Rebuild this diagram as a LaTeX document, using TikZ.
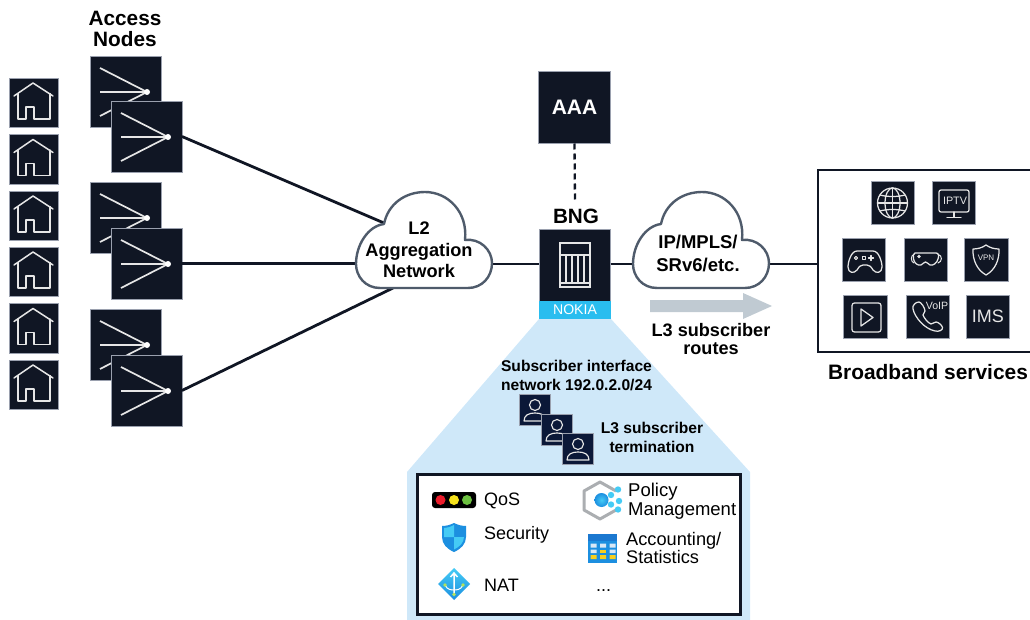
\documentclass[tikz,border=0pt]{standalone}
\usepackage{fontspec}
\setmainfont{Liberation Sans}
\definecolor{ink}{HTML}{101624}
\definecolor{navy}{HTML}{0B1838}
\definecolor{edge}{HTML}{9AA0AE}
\definecolor{glyph}{HTML}{E6E6E6}
\definecolor{cloudline}{HTML}{4F5B6B}
\definecolor{paleblue}{HTML}{CFE8F9}
\definecolor{nokia}{HTML}{29BDEF}
\definecolor{arrowgrey}{HTML}{C0CAD2}
\definecolor{lightred}{HTML}{EC1C2B}
\definecolor{lightyellow}{HTML}{F6E21C}
\definecolor{lightgreen}{HTML}{6CC040}
\definecolor{brightcyan}{HTML}{45CBF5}
\definecolor{midblue}{HTML}{1C8FE0}
\definecolor{deepblue}{HTML}{1B78D0}
\definecolor{cellpale}{HTML}{D8E8F6}
\definecolor{cellgold}{HTML}{F8CF1E}
\definecolor{hexgrey}{HTML}{ABAEB1}
\definecolor{dotgreen}{HTML}{B6E35A}
\newcommand{\fsz}[1]{\fontsize{#1}{#1}\selectfont}
\tikzset{
  sq/.style={draw=edge,line width=0.6pt,fill=ink,inner sep=0pt,outer sep=0pt,anchor=north west,text=white},
  subbox/.style={sq,fill=navy,minimum size=31.5pt},
  homebox/.style={sq,minimum size=49.5pt},
  anbox/.style={sq,minimum size=71pt},
  svcbox/.style={sq,minimum size=43.5pt},
  gl/.style={draw=glyph,line width=1.25pt,line join=round,line cap=round},
  wire/.style={draw=ink,line width=2.8pt},
  cloudshape/.style={draw=cloudline,line width=2.4pt,fill=white,line join=round},
  bold/.style={inner sep=0pt,align=center,font=\bfseries\fsz{#1}},
  reg/.style={inner sep=0pt,anchor=west,align=left,font=\fsz{#1}},
  homeglyph/.pic={
    \draw[gl,line width=1.5pt] (5,18) -- (24,5) -- (44,18);
    \draw[gl,line width=1.5pt] (9,15.6) -- (9,41) -- (17,41) -- (17,29) -- (25,29) -- (25,41) -- (41,41) -- (41,15.6);
  },
  fanglyph/.pic={
    \draw[draw=glyph,line width=1.7pt] (10,12) -- (57,36) (10,36) -- (57,36) (10,60) -- (57,36);
    \fill[white] (57,36) circle (3);
  },
  personglyph/.pic={
    \draw[gl,line width=1.15pt] (16,11) circle (5.5);
    \draw[gl,line width=1.15pt] (5,27) .. controls (5,21) and (10,19) .. (16,19) .. controls (22,19) and (27,21) .. (27,27) -- cycle;
  },
  cloudglyph/.pic={
    \path[cloudshape] (384,224)
      .. controls (388,204) and (405,192) .. (425,192)
      .. controls (448,192) and (468,212) .. (465,240)
      .. controls (480,238) and (492,250) .. (492,263)
      .. controls (492,277) and (482,288) .. (468,288)
      -- (380,288)
      .. controls (365,288) and (356,276) .. (356,264)
      .. controls (356,245) and (368,226) .. (384,224) -- cycle;
  }
}
\begin{document}
\begin{tikzpicture}[x=1pt,y=-1pt]
\useasboundingbox (0,0) rectangle (1030,620);
% pale blue fan-out
\fill[paleblue] (539,319) -- (611,319) -- (750,472) -- (750,620) -- (407,620) -- (407,472) -- cycle;

% homes
\foreach \n/\yy in {1/78,2/134.5,3/191,4/247,5/303.5,6/360}{
  \node[homebox] (home\n) at (9,\yy) {};
  \pic at (9,\yy) {homeglyph};
}
% access nodes
\node[anbox] (an1b) at (90,56) {};  \pic at (90,56) {fanglyph};
\node[anbox] (an1) at (111,101) {}; \pic at (111,101) {fanglyph};
\node[anbox] (an2b) at (90,182) {}; \pic at (90,182) {fanglyph};
\node[anbox] (an2) at (111,228) {}; \pic at (111,228) {fanglyph};
\node[anbox] (an3b) at (90,309) {}; \pic at (90,309) {fanglyph};
\node[anbox] (an3) at (111,355) {}; \pic at (111,355) {fanglyph};
\node[bold=20.8] (antext) at (125,29) {Access\\[0.5pt]Nodes};

% AAA and BNG boxes
\node[sq,minimum size=72pt,font=\bfseries\fsz{21}] (aaa) at (538.5,71.5) {AAA};
\node[sq,minimum width=71.5pt,minimum height=72pt] (bng) at (539,229) {};
\node[inner sep=0pt,outer sep=0pt,anchor=north west,fill=nokia,minimum width=72pt,minimum height=18pt,text=white,font=\fsz{14.1}] (nokiabar) at (539,301) {NOKIA};
\node[bold=20.7] (bnglabel) at (576,216) {BNG};
\coordinate (dashend) at (575,203);
\draw[draw=ink,line width=2.3pt,dash pattern=on 6pt off 4pt] (aaa.south) -- (dashend);
\draw[draw=glyph,line width=1.25pt] (560,243) rectangle (590,287) (560,255) -- (590,255) (560,283) -- (590,283)
  (566,255) -- (566,283) (572,255) -- (572,283) (578,255) -- (578,283) (584,255) -- (584,283);

% connectors
\coordinate (l2a) at (384,223);
\coordinate (l2b) at (357,264);
\coordinate (l2c) at (393,288);
\coordinate (l2d) at (491,264);
\coordinate (ipa) at (634,264);
\coordinate (ipb) at (768,264);
\coordinate (svcport) at (818,264);
\draw[wire] (an1.east) -- (l2a);
\draw[wire] (an2.east) -- (an2.east -| l2b);
\draw[wire] (an3.east) -- (l2c);
\draw[wire] (l2d) -- (l2d -| bng.west);
\draw[wire] (l2d -| bng.east) -- (ipa);
\draw[wire] (ipb) -- (svcport);

% clouds
\pic at (0,0) {cloudglyph};
\pic at (277,0) {cloudglyph};
\node[bold=18.2] (l2text) at (419,250) {L2\\[3.5pt]Aggregation\\[3.5pt]Network};
\node[bold=18.5] (iptext) at (698,253.5) {IP/MPLS/\\[4.5pt]SRv6/etc.};

% routes arrow
\fill[arrowgrey] (650,300) -- (743,300) -- (743,293) -- (772,306) -- (743,319) -- (743,312) -- (650,312) -- cycle;
\node[bold=18.1] (routestext) at (711,339) {L3 subscriber\\[0.5pt]routes};

% services frame
\draw[draw=ink,line width=2.8pt] (1031,170) -- (818,170) -- (818,352) -- (1031,352);
\node[bold=20.9] (bbtext) at (928,372) {Broadband services};

% service icons
\node[svcbox] (globe) at (871,181) {};
\draw[gl] (892.5,203) circle (15);
\draw[gl] (892.5,203) ellipse (7.5 and 15);
\draw[gl] (892.5,188) -- (892.5,218) (877.5,203) -- (907.5,203);
\draw[gl] (880,195) .. controls (887,197) and (898,197) .. (905,195);
\draw[gl] (880,211) .. controls (887,209) and (898,209) .. (905,211);

\node[svcbox] (iptv) at (932,181) {};
\draw[gl,rounded corners=2pt] (939,190) rectangle (969,212);
\draw[gl] (954,212) -- (954,217) (947,217.5) -- (961,217.5);
\node[inner sep=0pt,text=glyph,font=\fsz{10.8}] (iptvtext) at (955,201) {IPTV};

\node[svcbox] (game) at (842,238) {};
\draw[gl] (857,251) -- (873,251) .. controls (879,251) and (882,262) .. (882,267)
  .. controls (882,273) and (876,274) .. (873,270) .. controls (871,267) and (870,265) .. (867,265)
  -- (863,265) .. controls (860,265) and (859,267) .. (857,270)
  .. controls (854,274) and (848,273) .. (848,267) .. controls (848,262) and (851,251) .. (857,251) -- cycle;
\draw[gl,line width=1pt] (856,258) circle (1.6);
\draw[gl,line width=1pt] (862,256.2) rectangle (865.5,259.8);
\draw[gl,line width=1.1pt] (868.5,258) -- (873.5,258) (871,255.5) -- (871,260.5);

\node[svcbox] (vr) at (904,238) {};
\draw[gl] (915,253) -- (936,253) .. controls (939,253) and (939,256) .. (938,259)
  .. controls (937,263) and (933,266) .. (930,265) .. controls (928,264) and (927,262) .. (925.5,262)
  .. controls (924,262) and (923,264) .. (921,265) .. controls (918,266) and (914,263) .. (913.5,259)
  .. controls (913,256) and (913,253) .. (915,253) -- cycle;
\draw[gl,line width=1pt] (914,254.5) .. controls (910.5,255) and (910.5,262) .. (914,263);
\draw[gl,line width=1pt] (938,254.5) .. controls (942.5,255) and (942.5,262) .. (938,263);
\fill[glyph] (919,256.5) circle (1.8);

\node[svcbox] (vpn) at (964.5,238) {};
\draw[gl] (986,245) .. controls (990,248) and (995,249) .. (999,249)
  .. controls (999.5,260) and (995,270) .. (986,275)
  .. controls (977,270) and (972.5,260) .. (973,249)
  .. controls (977,249) and (982,248) .. (986,245) -- cycle;
\node[inner sep=0pt,text=glyph,font=\fsz{8}] (vpntext) at (986,258) {VPN};

\node[svcbox] (play) at (843.5,295) {};
\draw[gl,rounded corners=2.5pt] (852,303) rectangle (881,332);
\draw[gl] (861,309) -- (873,317.5) -- (861,326) -- cycle;

\node[svcbox] (voip) at (906,295) {};
\draw[gl] (913,309) .. controls (915,318) and (925,329) .. (935,331)
  .. controls (939,332) and (943,330) .. (942.5,327.5) .. controls (942,325) and (938,322) .. (936,322)
  .. controls (934,322) and (933,324) .. (931,324) .. controls (928,323) and (924,318) .. (923,315)
  .. controls (923,313) and (925,313) .. (925,311) .. controls (925,308) and (921,302) .. (919,302)
  .. controls (916,302) and (912,305) .. (913,309) -- cycle;
\node[inner sep=0pt,text=glyph,font=\fsz{10.6}] (voiptext) at (937,306) {VoIP};

\node[svcbox,font=\fsz{18},text=glyph] (ims) at (966,295) {IMS};

% subscriber block
\node[bold=15.6] (subtext) at (576.5,375.5) {Subscriber interface\\[3.5pt]network 192.0.2.0/24};
\node[subbox] (sub1) at (519,394) {}; \pic at (519,394) {personglyph};
\node[subbox] (sub2) at (541,414) {}; \pic at (541,414) {personglyph};
\node[subbox] (sub3) at (562,433) {}; \pic at (562,433) {personglyph};
\node[bold=15.6] (termtext) at (652,437.5) {L3 subscriber\\[3.5pt]termination};

% feature frame
\node[draw=ink,line width=3pt,fill=white,inner sep=0pt,outer sep=0pt,anchor=north west,minimum width=323pt,minimum height=140pt] (features) at (417.5,474.5) {};

\fill[black,rounded corners=3pt] (432,492) rectangle (476,508);
\fill[lightred] (440.5,500) circle (5);
\fill[lightyellow] (454,500) circle (5);
\fill[lightgreen] (467,500) circle (5);
\node[reg=18] (qos) at (484,500.5) {QoS};

% shield
\path[fill=midblue] (454,523) .. controls (458,525) and (462,526) .. (466,526)
  -- (466,537) .. controls (466,544) and (461,549) .. (454,552)
  .. controls (447,549) and (442,544) .. (442,537) -- (442,526)
  .. controls (446,526) and (450,525) .. (454,523) -- cycle;
\path[fill=brightcyan] (454,525) .. controls (450,527) and (447,528) .. (444,528) -- (444,537) -- (454,537) -- cycle;
\path[fill=brightcyan] (454,537) -- (464,537) .. controls (464,543) and (459,547) .. (454,549.5) -- cycle;
\node[reg=18] (security) at (484,535) {Security};

% NAT diamond
\path[top color=brightcyan,bottom color=midblue] (454,568) -- (470,584) -- (454,600) -- (438,584) -- cycle;
\draw[white,line width=1.5pt] (454,595) -- (454,574) (450.5,577) -- (454,573) -- (457.5,577);
\draw[white,line width=1pt] (445,585) .. controls (447,590) and (452,590) .. (454,590) .. controls (456,590) and (461,590) .. (463,585);
\fill[dotgreen] (445,585) circle (1.8) (463,585) circle (1.8) (454,594.5) circle (1.8);
\node[reg=18] (nat) at (484,585) {NAT};

% policy
\draw[draw=hexgrey,line width=3pt,line join=round] (616,491) -- (600,482) -- (584,491) -- (584,510) -- (600,519) -- (616,510);
\shade[inner color=brightcyan,outer color=midblue] (601.5,500) circle (7);
\fill[brightcyan] (618,489.5) circle (3.2) (611,495) circle (3.2) (619,501) circle (3.2) (611,504.5) circle (3.2) (618,509.5) circle (3.2);
\node[reg=18.5,align=left] (policy) at (628,501.5) {Policy\\[0.5pt]Management};

% statistics
\fill[midblue] (588,534) rectangle (617,563);
\fill[deepblue] (588,534) rectangle (617,541);
\fill[cellpale] (590.5,543.5) rectangle (596.5,547.5) (600,543.5) rectangle (606,547.5) (609.5,543.5) rectangle (615.5,547.5);
\fill[cellpale] (590.5,549.5) rectangle (596.5,553) (609.5,549.5) rectangle (615.5,553);
\fill[cellgold] (600,549.5) rectangle (606,553);
\fill[cellgold] (590.5,555) rectangle (596.5,559) (600,555) rectangle (606,559) (609.5,555) rectangle (615.5,559);
\node[reg=18.2,align=left] (acct) at (626,548) {Accounting/\\[0.5pt]Statistics};
\node[reg=18] (dots) at (596,591) {...};
\end{tikzpicture}
\end{document}
